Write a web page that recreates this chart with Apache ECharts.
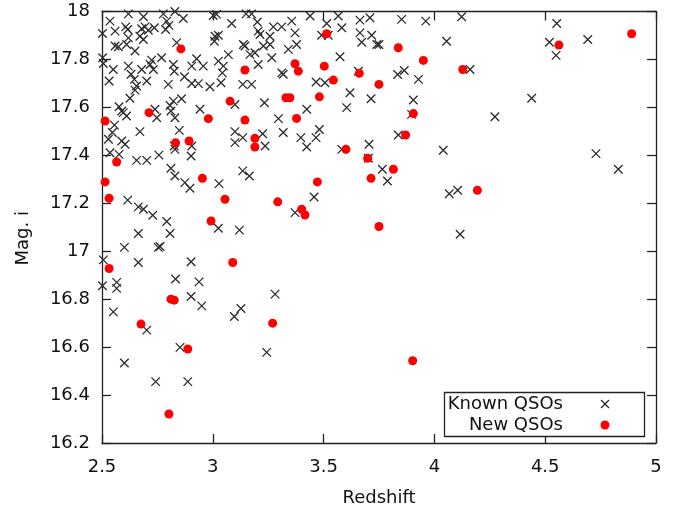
<!DOCTYPE html>
<html>
<head>
<meta charset="utf-8">
<script src="https://cdn.jsdelivr.net/npm/echarts@6/dist/echarts.min.js"></script>
<style>html,body{margin:0;padding:0;background:#fff}#c{width:686px;height:512px}</style>
</head>
<body>
<div id="c"></div>
<script>
var xTicks = [2.5, 3, 3.5, 4, 4.5, 5];
var yTicks = [16.2, 16.4, 16.6, 16.8, 17, 17.2, 17.4, 17.6, 17.8, 18];

var knownRedshift = [
2.619,2.687,2.777,2.829,2.867,3.002,3.017,3.085,2.536,2.607,2.616,2.559,2.502,2.679,2.694,2.709,2.736,2.671,2.687,2.792,2.802,2.787,2.619,2.649,2.559,2.574,2.611,2.837,3.010,3.025,3.007,3.070,2.503,2.506,2.724,2.769,2.717,2.732,2.679,2.619,2.551,2.532,2.822,2.826,2.905,2.927,2.957,3.025,3.048,3.043,2.872,2.799,2.905,2.935,2.987,3.037,2.631,2.646,2.702,2.656,2.649,2.626,2.859,2.822,2.807,2.811,2.829,2.577,2.589,2.596,2.611,2.739,2.747,2.942,
3.150,3.175,3.201,3.356,3.439,3.514,3.566,3.664,3.273,3.311,3.205,3.213,3.258,3.371,3.491,3.521,3.582,3.664,3.672,3.138,3.145,3.228,3.258,3.378,3.168,3.190,3.205,3.266,3.341,3.574,3.311,3.318,3.466,3.506,3.657,3.135,3.175,3.100,3.233,3.424,3.296,3.619,3.604,
3.709,3.852,3.961,4.123,3.717,3.740,3.750,4.055,3.834,3.864,3.928,4.161,3.714,3.905,3.897,4.273,
4.552,4.519,4.549,4.692,4.439,
2.556,2.547,2.529,2.589,2.604,2.671,2.849,2.826,2.829,2.905,2.536,2.577,2.656,2.702,2.757,2.902,2.811,2.829,2.874,2.897,3.028,2.616,2.664,2.687,2.729,2.792,2.807,2.664,3.025,
3.100,3.135,3.100,3.225,3.236,3.318,3.397,3.424,3.466,3.481,3.582,3.135,3.165,3.457,3.371,3.120,
3.837,3.705,3.702,3.765,3.788,4.040,4.067,4.105,4.116,
4.729,4.830,
2.601,2.754,2.762,2.506,2.664,2.902,2.502,2.566,2.566,2.832,2.938,2.902,2.950,2.551,3.281,3.097,3.127,2.702,2.852,3.243,2.601,2.742,2.887
];
var knownMag = [
17.99,17.978,17.99,18.0,17.971,17.983,17.988,17.95,17.96,17.936,17.925,17.918,17.908,17.928,17.936,17.922,17.932,17.897,17.883,17.96,17.942,17.925,17.89,17.835,17.856,17.853,17.862,17.87,17.897,17.901,17.876,17.82,17.807,17.783,17.797,17.807,17.779,17.758,17.758,17.772,17.758,17.71,17.779,17.751,17.772,17.803,17.772,17.793,17.772,17.744,17.728,17.696,17.7,17.699,17.686,17.703,17.738,17.717,17.71,17.689,17.672,17.638,17.636,17.626,17.608,17.585,17.557,17.603,17.585,17.578,17.564,17.592,17.557,17.592,
17.99,17.99,17.956,17.96,17.981,17.95,17.981,17.964,17.936,17.936,17.918,17.904,17.897,17.911,17.901,17.901,17.932,17.911,17.872,17.862,17.856,17.856,17.862,17.862,17.821,17.828,17.779,17.807,17.842,17.811,17.744,17.738,17.706,17.703,17.751,17.696,17.696,17.612,17.619,17.592,17.553,17.661,17.599,
17.974,17.967,17.96,17.978,17.901,17.862,17.862,17.876,17.737,17.754,17.717,17.758,17.636,17.631,17.571,17.561,
17.95,17.872,17.817,17.883,17.638,
17.526,17.495,17.467,17.46,17.446,17.499,17.504,17.439,17.425,17.439,17.411,17.404,17.379,17.379,17.401,17.397,17.346,17.314,17.286,17.263,17.282,17.213,17.185,17.175,17.15,17.124,17.074,17.074,17.096,
17.499,17.474,17.453,17.49,17.439,17.495,17.474,17.435,17.474,17.508,17.425,17.335,17.314,17.226,17.161,17.088,
17.485,17.446,17.388,17.342,17.293,17.421,17.24,17.254,17.071,
17.407,17.342,
17.016,17.016,17.02,16.964,16.953,16.956,16.856,16.87,16.845,16.884,16.872,16.811,16.772,16.747,16.821,16.728,16.761,16.671,16.599,16.578,16.534,16.456,16.456
];

var newRedshift = [
2.856,3.078,2.712,2.980,2.514,
3.514,3.145,3.371,3.386,3.503,3.544,3.661,3.330,3.348,3.481,3.145,3.378,
3.837,3.950,4.128,3.750,3.905,
4.562,4.890,
2.832,2.893,2.566,2.514,2.953,2.532,3.055,2.992,
3.190,3.190,3.601,3.472,3.293,3.401,3.416,
3.870,3.699,3.815,3.714,4.194,3.750,
2.532,3.090,2.811,2.826,2.676,2.887,3.270,2.802,
3.902
];
var newMag = [
17.844,17.626,17.578,17.553,17.543,
17.907,17.756,17.782,17.751,17.772,17.714,17.742,17.64,17.64,17.644,17.547,17.554,
17.849,17.796,17.758,17.696,17.574,
17.86,17.907,
17.453,17.46,17.372,17.289,17.304,17.221,17.217,17.126,
17.471,17.435,17.425,17.289,17.206,17.175,17.151,
17.485,17.388,17.342,17.304,17.254,17.103,
16.928,16.953,16.8,16.796,16.696,16.592,16.7,16.321,
16.543
];

var seriesNames = ['Known QSOs', 'New QSOs'];

function pairs(xs, ys) { return xs.map(function (x, i) { return [x, ys[i]]; }); }

var FONT = 'DejaVu Sans';
var AX = '#222';
var chart = echarts.init(document.getElementById('c'), null, { renderer: 'canvas' });

var baseX = {
  type: 'value', min: 2.5, max: 5, interval: 0.5,
  axisLine: { show: true, onZero: false, lineStyle: { color: AX, width: 1.3 } },
  axisTick: { show: true, inside: true, length: 9, lineStyle: { color: AX, width: 1.3 } },
  splitLine: { show: false }
};
var baseY = {
  type: 'value', min: 16.2, max: 18, interval: 0.2,
  axisLine: { show: true, onZero: false, lineStyle: { color: AX, width: 1.3 } },
  axisTick: { show: true, inside: true, length: 9, lineStyle: { color: AX, width: 1.3 } },
  splitLine: { show: false }
};

var xMark = 'path://M0,0L10,10M10,0L0,10';

chart.setOption({
  animation: false,
  backgroundColor: '#fff',
  grid: { left: 102, right: 30, top: 11.5, bottom: 68, containLabel: false },
  xAxis: [
    Object.assign({}, baseX, {
      position: 'bottom',
      name: 'Redshift', nameLocation: 'middle', nameGap: 46,
      nameTextStyle: { fontFamily: FONT, fontSize: 18, color: '#111' },
      axisLabel: { margin: 15, fontFamily: FONT, fontSize: 18, color: '#111',
        formatter: function (v) { return String(+v.toFixed(1)); } }
    }),
    Object.assign({}, baseX, { position: 'top', axisLabel: { show: false } })
  ],
  yAxis: [
    Object.assign({}, baseY, {
      position: 'left',
      name: 'Mag. i', nameLocation: 'middle', nameGap: 70,
      nameTextStyle: { fontFamily: FONT, fontSize: 18, color: '#111', padding: [0, 0, 0, -22] },
      axisLabel: { margin: 12, fontFamily: FONT, fontSize: 18, color: '#111',
        formatter: function (v) { return String(+v.toFixed(1)); } }
    }),
    Object.assign({}, baseY, { position: 'right', axisLabel: { show: false } })
  ],
  series: [
    {
      name: seriesNames[0], type: 'scatter', xAxisIndex: 0, yAxisIndex: 0,
      symbol: xMark, symbolSize: 8.5,
      itemStyle: { color: 'rgba(0,0,0,0)', borderColor: '#2a2a2a', borderWidth: 1.3, opacity: 1 },
      emphasis: { disabled: true },
      data: pairs(knownRedshift, knownMag), z: 2
    },
    {
      name: seriesNames[1], type: 'scatter', xAxisIndex: 0, yAxisIndex: 0,
      symbol: 'circle', symbolSize: 9,
      itemStyle: { color: '#ff0000', opacity: 1 },
      emphasis: { disabled: true },
      data: pairs(newRedshift, newMag), z: 3
    }
  ],
  graphic: [
    { type: 'rect', z: 100, shape: { x: 444.5, y: 392.5, width: 200, height: 44 },
      style: { fill: '#fff', stroke: AX, lineWidth: 1.3 } },
    { type: 'text', z: 101, x: 563, y: 404, style: { text: seriesNames[0], fontFamily: FONT, fontSize: 18,
      fill: '#111', align: 'right', verticalAlign: 'middle' } },
    { type: 'text', z: 101, x: 563, y: 425, style: { text: seriesNames[1], fontFamily: FONT, fontSize: 18,
      fill: '#111', align: 'right', verticalAlign: 'middle' } },
    { type: 'line', z: 101, shape: { x1: 601, y1: 400, x2: 609, y2: 408 },
      style: { stroke: '#222', lineWidth: 1.3 } },
    { type: 'line', z: 101, shape: { x1: 609, y1: 400, x2: 601, y2: 408 },
      style: { stroke: '#222', lineWidth: 1.3 } },
    { type: 'circle', z: 101, shape: { cx: 605, cy: 425, r: 4.5 }, style: { fill: '#ff0000' } }
  ]
});
</script>
</body>
</html>
